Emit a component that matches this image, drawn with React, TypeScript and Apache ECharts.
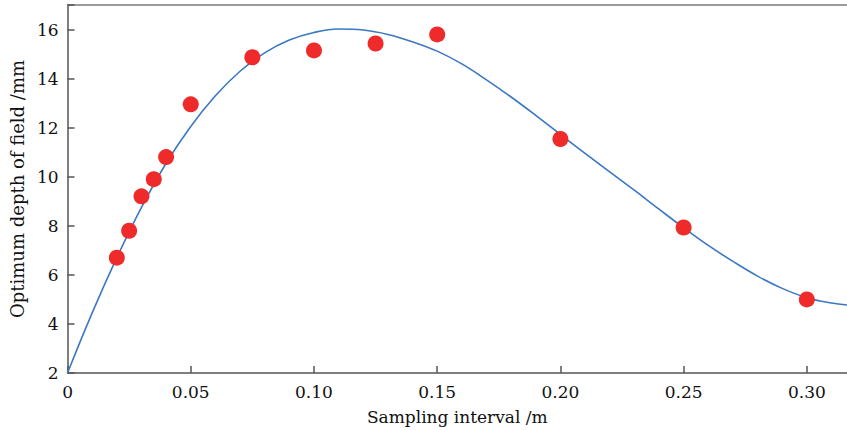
import React, { useEffect, useRef } from "react";
import * as echarts from "echarts";

// Measured optimum depth of field at each sampling interval
const sampleInterval = [0.02, 0.025, 0.03, 0.035, 0.04, 0.05, 0.075, 0.1, 0.125, 0.15, 0.2, 0.25, 0.3];
const depthOfField = [6.7, 7.8, 9.2, 9.9, 10.8, 12.95, 14.87, 15.15, 15.43, 15.8, 11.54, 7.93, 5.0];

// Fitted trend curve, sampled along the interval axis
const fitInterval = [
  0, 0.01, 0.02, 0.03, 0.04, 0.05, 0.06, 0.07, 0.08, 0.09, 0.1, 0.11, 0.12, 0.13, 0.14, 0.15, 0.16,
  0.17, 0.18, 0.19, 0.2, 0.21, 0.22, 0.23, 0.24, 0.25, 0.26, 0.27, 0.28, 0.29, 0.3, 0.31, 0.3163,
];
const fitDepth = [
  2.0, 4.45, 6.7, 8.75, 10.55, 12.05, 13.3, 14.3, 15.05, 15.57, 15.88, 16.02, 15.98, 15.8, 15.5, 15.12,
  14.6, 13.95, 13.25, 12.5, 11.72, 10.95, 10.2, 9.45, 8.68, 7.92, 7.2, 6.55, 5.95, 5.45, 5.07, 4.85, 4.77,
];

const yTicks = [2, 4, 6, 8, 10, 12, 14, 16];
const xTickStep = 0.05;

const FONT = "DejaVu Serif";
const AXIS_COLOR = "#555555";
const TEXT_COLOR = "#111111";

export default function App() {
  const ref = useRef<HTMLDivElement>(null);

  useEffect(() => {
    if (!ref.current) return;
    const chart = echarts.init(ref.current, undefined, { renderer: "svg" });
    const xMax = fitInterval[fitInterval.length - 1];
    chart.setOption({
      animation: false,
      backgroundColor: "#ffffff",
      grid: { left: 67, right: 0, top: 5, bottom: 55, containLabel: false },
      xAxis: [
        {
          type: "value",
          min: 0,
          max: xMax,
          interval: xTickStep,
          name: "Sampling interval /m",
          nameLocation: "middle",
          nameGap: 35,
          nameTextStyle: { fontFamily: FONT, fontSize: 17, color: TEXT_COLOR },
          axisLine: { show: true, lineStyle: { color: AXIS_COLOR, width: 1.5 } },
          axisTick: { show: true, inside: true, length: 7, lineStyle: { color: AXIS_COLOR, width: 1.5 } },
          axisLabel: {
            fontFamily: FONT,
            fontSize: 17,
            color: TEXT_COLOR,
            margin: 10,
            showMaxLabel: false,
            formatter: (v: number) => (v === 0 ? "0" : v.toFixed(2)),
          },
          splitLine: { show: false },
        },
        {
          type: "value",
          position: "top",
          min: 0,
          max: xMax,
          axisLine: { show: true, lineStyle: { color: "#7a7a7a", width: 1.5 } },
          axisTick: { show: false },
          axisLabel: { show: false },
          splitLine: { show: false },
        },
      ],
      yAxis: {
        type: "value",
        min: yTicks[0],
        max: 17,
        interval: 2,
        name: "Optimum depth of field /mm",
        nameLocation: "middle",
        nameGap: 38,
        nameTextStyle: { fontFamily: FONT, fontSize: 18, color: TEXT_COLOR },
        axisLine: { show: true, lineStyle: { color: AXIS_COLOR, width: 1.5 } },
        axisTick: { show: true, inside: true, length: 7, lineStyle: { color: AXIS_COLOR, width: 1.5 } },
        axisLabel: {
          fontFamily: FONT,
          fontSize: 17,
          color: TEXT_COLOR,
          margin: 9,
          formatter: (v: number) => (yTicks.includes(v) ? String(v) : ""),
        },
        splitLine: { show: false },
      },
      series: [
        {
          type: "line",
          data: fitInterval.map((x, i) => [x, fitDepth[i]]),
          smooth: 0.4,
          showSymbol: false,
          lineStyle: { color: "#3a78c2", width: 1.6 },
          z: 2,
        },
        {
          type: "scatter",
          data: sampleInterval.map((x, i) => [x, depthOfField[i]]),
          symbol: "circle",
          symbolSize: 16,
          itemStyle: { color: "#ee2a2a", opacity: 1 },
          z: 3,
        },
      ],
    });
    return () => chart.dispose();
  }, []);

  return (
    <div
      ref={ref}
      style={{ position: "fixed", left: 0, top: 0, width: 847, height: 430 }}
    />
  );
}
